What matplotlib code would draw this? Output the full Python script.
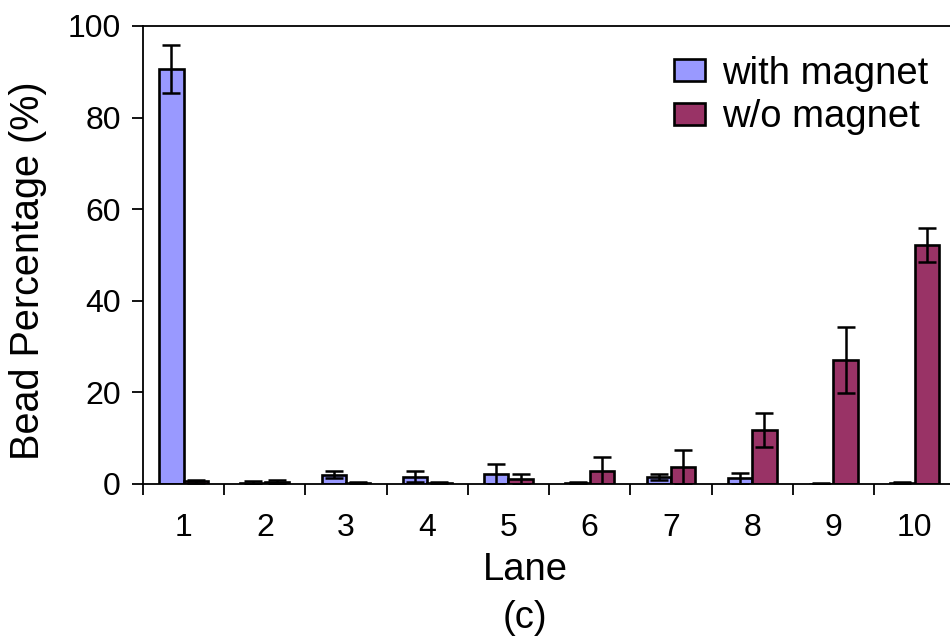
import matplotlib
matplotlib.use("Agg")
import matplotlib.pyplot as plt
import numpy as np

plt.rcParams['font.family'] = ['Liberation Sans', 'DejaVu Sans']

# lane numbers and bead percentages
lanes = [1, 2, 3, 4, 5, 6, 7, 8, 9, 10]
with_magnet = [90.6, 0.3, 2.0, 1.6, 2.2, 0.3, 1.5, 1.2, 0.1, 0.3]
with_err = [5.2, 0.4, 0.8, 1.2, 2.2, 0.1, 0.6, 1.1, 0.1, 0.1]
without_magnet = [0.6, 0.4, 0.3, 0.3, 1.1, 2.8, 3.8, 11.8, 27.1, 52.2]
without_err = [0.3, 0.4, 0.1, 0.1, 1.1, 3.2, 3.7, 3.7, 7.2, 3.8]

fig = plt.figure(figsize=(9.5, 6.37), dpi=100)
ax = fig.add_axes([0.1505, 0.2402, 0.855, 0.719])

x = np.array(lanes)
w = 0.3
err_kw = dict(ecolor='black', elinewidth=1.8, capsize=6.5, capthick=1.8)
ax.bar(x - w / 2, with_magnet, w, yerr=with_err, color='#9999ff',
       edgecolor='black', linewidth=1.9, label='with magnet', error_kw=err_kw)
ax.bar(x + w / 2, without_magnet, w, yerr=without_err, color='#993366',
       edgecolor='black', linewidth=1.9, label='w/o magnet', error_kw=err_kw)

ax.set_xlim(0.5, 10.5)
ax.set_ylim(0, 100)
ax.set_yticks([0, 20, 40, 60, 80, 100])

# tick marks sit between lanes, labels under the lane centres
ax.set_xticks(np.arange(0.5, 11, 1))
ax.set_xticklabels([])
ax.set_xticks(x, minor=True)
ax.set_xticklabels([str(l) for l in lanes], minor=True)
ax.tick_params(axis='x', which='major', direction='out', length=8, width=1.3)
ax.tick_params(axis='x', which='minor', length=0, pad=21, labelsize=23)
ax.tick_params(axis='y', direction='out', length=8, width=1.3, pad=8, labelsize=23)

for s in ['left', 'bottom', 'top']:
    ax.spines[s].set_linewidth(1.3)
ax.spines['right'].set_visible(False)

ax.set_ylabel('Bead Percentage (%)', fontsize=28.5)
ax.yaxis.set_label_coords(-0.118, 0.465)
fig.text(0.553, 1 - 570 / 637, 'Lane', fontsize=27.5, ha='center', va='center')
fig.text(0.553, 1 - 618 / 637, '(c)', fontsize=27.5, ha='center', va='center')

ax.legend(loc='upper right', bbox_to_anchor=(0.995, 0.985), frameon=False,
          fontsize=27.5, handlelength=0.8, handleheight=0.5, handletextpad=0.45,
          labelspacing=0.2, borderaxespad=0.2)

fig.savefig('out.png', dpi=100)
